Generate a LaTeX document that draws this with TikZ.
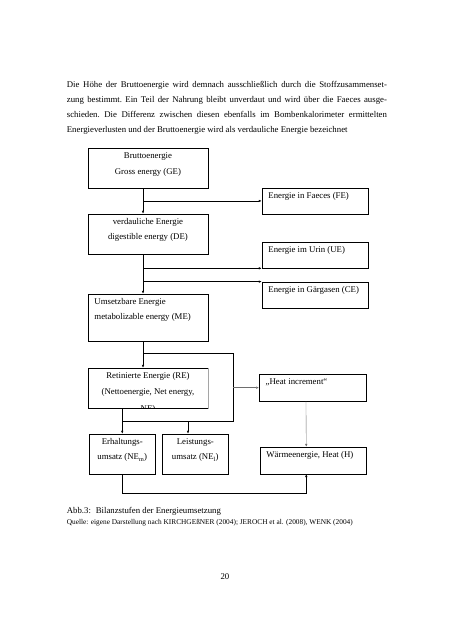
\documentclass[tikz,border=0pt]{standalone}
\usepackage{fontspec}
\setmainfont{Liberation Serif}
\usetikzlibrary{arrows.meta}

\tikzset{
  stufe/.style={draw, line width=0.9pt, inner xsep=0.3cm, inner ysep=0pt,
    font=\fontsize{11.6}{20.2}\selectfont},
  pfeil/.style={-{Latex[length=1.3mm,width=1.1mm]}, line width=0.5pt},
  linie/.style={line width=0.5pt},
  fliess/.style={anchor=north west, inner sep=0pt, font=\fontsize{11.6}{20.2}\selectfont},
}
% Textfeld mit fester Breite und Hoehe, Text oben
\newcommand{\feld}[4]{\parbox[t][#2][t]{#1}{#3\strut#4}}

\begin{document}
\begin{tikzpicture}
            \definecolor{liniengrau}{RGB}{110,110,110}
            % Seite A4
            \useasboundingbox (0,0) rectangle (21,-29.735);
            % Fliesstext oberhalb der Abbildung
            \node[fliess] (absatz) at (3.10,-3.545) {\parbox[t]{14.87cm}{\frenchspacing\tolerance=9999\hyphenpenalty=10000\strut
              Die Höhe der Bruttoenergie wird demnach ausschließlich durch die Stoffzusammenset-\linebreak
              zung bestimmt. Ein Teil der Nahrung bleibt unverdaut und wird über die Faeces ausge-\linebreak
              schieden. Die Differenz zwischen diesen ebenfalls im Bombenkalorimeter ermittelten\linebreak
              Energieverlusten und der Bruttoenergie wird als verdauliche Energie bezeichnet}};

            % linke Spalte
            \node[stufe] (ge) at (6.875,-7.805) {\feld{4.97cm}{1.85cm}{\centering}{Bruttoenergie\\Gross energy (GE)}};
            \node[stufe] (de) at (6.875,-10.87) {\feld{4.97cm}{1.86cm}{\centering}{verdauliche Energie\\digestible energy (DE)}};
            \node[stufe] (me) at (6.875,-14.75) {\feld{4.97cm}{2.18cm}{\raggedright}{Umsetzbare Energie\\metabolizable energy (ME)}};
            \begin{scope}
              % dritte Zeile wird vom Kasten abgeschnitten
              \clip (4.07,-17.08) rectangle (9.68,-18.97);
              \node[stufe] (re) at (6.875,-18.03) {\feld{4.97cm}{1.86cm}{\centering}{Retinierte Energie (RE)\\(Nettoenergie, Net energy,\\[3pt]NE)}};
            \end{scope}
            \node[stufe] (erh) at (5.68,-21.09) {\feld{2.5cm}{1.86cm}{\centering}{Erhaltungs-\\umsatz (NE\textsubscript{m})}};
            \node[stufe] (lei) at (9.075,-21.09) {\feld{2.47cm}{1.86cm}{\centering}{Leistungs-\\umsatz (NE\textsubscript{l})}};

            % rechte Spalte
            \node[stufe] (fe) at (14.635,-9.335) {\feld{4.33cm}{1.21cm}{\raggedright}{Energie in Faeces (FE)}};
            \node[stufe] (ue) at (14.635,-11.845) {\feld{4.33cm}{1.21cm}{\raggedright}{Energie im Urin (UE)}};
            \node[stufe] (ce) at (14.635,-13.705) {\feld{4.33cm}{1.21cm}{\raggedright}{Energie in Gärgasen (CE)}};
            \node[stufe] (heat) at (14.525,-18.01) {\feld{4.36cm}{1.24cm}{\raggedright}{„Heat increment“}};
            \node[stufe] (waerme) at (14.54,-21.395) {\feld{4.32cm}{1.25cm}{\raggedright}{Wärmeenergie, Heat (H)}};

            % Hauptstrang mit Abzweigen
            \draw[pfeil] ([xshift=-0.23cm]ge.south) -- ([xshift=-0.23cm]de.north);
            \draw[pfeil] ([xshift=-0.23cm]ge.south |- fe.west) -- (fe.west);
            \draw[pfeil] ([xshift=-0.23cm]de.south) -- ([xshift=-0.23cm]me.north);
            \draw[pfeil] ([xshift=-0.23cm]de.south |- ue.south west) -- (ue.south west);
            \draw[pfeil] ([xshift=-0.23cm]de.south |- ce.north west) -- (ce.north west);
            \draw[pfeil] ([xshift=-0.23cm]me.south) -- ([xshift=-0.23cm]re.north);

            % Abzweig zum Heat increment und zum Leistungsumsatz
            \coordinate (ecke) at (10.83,-19.56);
            \draw[linie] ([xshift=-0.23cm,yshift=-0.57cm]me.south) -| (ecke) -- (ecke -| erh.north);
            \draw[pfeil, liniengrau] (ecke |- heat.west) -- (heat.west);
            \draw[pfeil] (re.south -| erh.north) -- (erh.north);
            \draw[pfeil] ([xshift=-0.34cm]lei.north |- ecke) -- ([xshift=-0.34cm]lei.north);
            \draw[pfeil, liniengrau] ([xshift=-0.31cm]heat.south) -- ([xshift=-0.31cm]waerme.north);
            \draw[pfeil] (erh.south) -- ++(0,-0.88) -| ([xshift=-0.31cm]waerme.south);

            % Bildunterschrift und Seitenzahl
            \node[anchor=base west, inner sep=0pt, font=\fontsize{11.6}{14}\selectfont] (abb) at (3.10,-23.88)
              {Abb.3:\hspace{0.55em}Bilanzstufen der Energieumsetzung};
            \node[anchor=base west, inner sep=0pt, font=\fontsize{9.7}{12}\selectfont] (quelle) at (3.10,-24.39)
              {Quelle: eigene Darstellung nach KIRCHGEßNER (2004); JEROCH et al. (2008), WENK (2004)};
            \node[anchor=base, inner sep=0pt, font=\fontsize{11.6}{14}\selectfont] (seite) at (10.45,-26.93) {20};
\end{tikzpicture}
\end{document}
